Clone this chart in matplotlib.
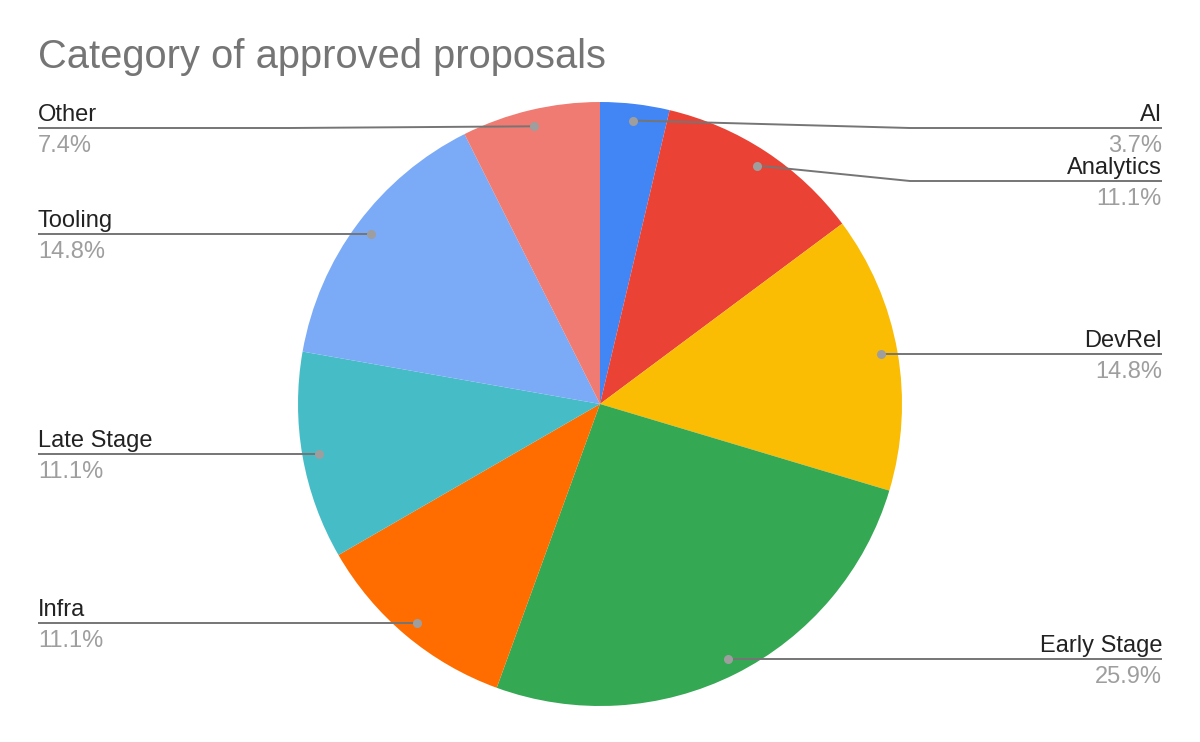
import math
import matplotlib
matplotlib.use("Agg")
import matplotlib.pyplot as plt

categories = ["AI", "Analytics", "DevRel", "Early Stage", "Infra", "Late Stage", "Tooling", "Other"]
counts = [1, 3, 4, 7, 3, 3, 4, 2]
colors = ["#4285F4", "#EA4335", "#FBBC04", "#34A853", "#FF6D01", "#46BDC6", "#7BAAF7", "#F07B72"]
title = "Category of approved proposals"

W, H = 1200, 742
plt.rcParams['font.family'] = ['Liberation Sans', 'DejaVu Sans']
fig = plt.figure(figsize=(W / 100, H / 100), dpi=100)
ax = fig.add_axes([0, 0, 1, 1])
ax.set_xlim(0, W)
ax.set_ylim(0, H)
ax.set_aspect('equal')
ax.axis('off')

def Y(y):
    return H - y

cx, cy, R = 600, 404, 302
ax.pie(counts, colors=colors, startangle=90, counterclock=False,
       center=(cx, Y(cy)), radius=R, frame=True,
       wedgeprops=dict(linewidth=0))
ax.set_xlim(0, W)
ax.set_ylim(0, H)
ax.axis('off')

fig.text(38 / W, 1 - 68 / H, title, fontsize=28.7, color="#757575", va='baseline', ha='left')

total = sum(counts)
items = []
cum = 0
for name, c in zip(categories, counts):
    mid = (cum + c / 2) / total * 2 * math.pi
    cum += c
    rd = 0.945 * R
    dx = cx + rd * math.sin(mid)
    dy = cy - rd * math.cos(mid)
    side = 'right' if math.sin(mid) >= 0 else 'left'
    items.append(dict(name=name, pct=c / total * 100, dx=dx, dy=dy, side=side))

top_min, spacing = 128, 53
for side in ('right', 'left'):
    group = sorted([it for it in items if it['side'] == side], key=lambda it: it['dy'])
    prev = -1e9
    for it in group:
        ly = max(it['dy'], prev + spacing, top_min)
        it['ly'] = ly
        prev = ly

line_col = "#757575"
for it in items:
    right = it['side'] == 'right'
    edge = 1162 if right else 38
    knee = cx + (R + 8) * (1 if right else -1)
    xs = [it['dx']]
    ys = [it['dy']]
    if abs(it['ly'] - it['dy']) > 0.5:
        xs.append(knee)
        ys.append(it['ly'])
    xs.append(edge)
    ys.append(it['ly'])
    ax.plot(xs, [Y(v) for v in ys], color=line_col, lw=1.4, solid_capstyle='butt', zorder=3)
    ax.plot([it['dx']], [Y(it['dy'])], 'o', color="#9E9E9E", ms=6.5, mec='none', zorder=4)
    ha = 'right' if right else 'left'
    ax.text(edge, Y(it['ly'] - 7), it['name'], fontsize=17, color="#222222", ha=ha, va='baseline')
    ax.text(edge, Y(it['ly'] + 24), f"{it['pct']:.1f}%", fontsize=17, color="#9E9E9E", ha=ha, va='baseline')

fig.savefig("out.png", dpi=100, facecolor='white')
